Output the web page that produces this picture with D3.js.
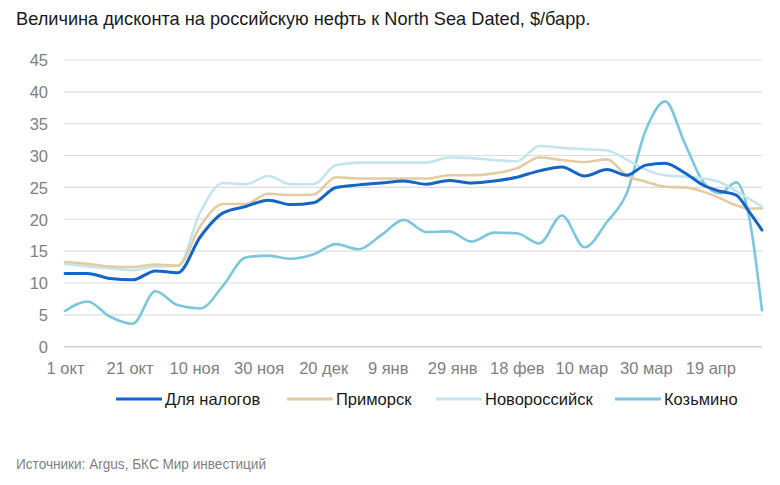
<!DOCTYPE html>
<html><head><meta charset="utf-8">
<script src="https://cdn.jsdelivr.net/npm/d3@7"></script>
<style>
body{margin:0;background:#fff;}
svg{display:block;}
</style></head>
<body>
<svg id="chart" width="780" height="485"></svg>
<script>
// Day offsets from 1 Oct
const days = [0,7,14,21,28,35,42,49,56,63,70,77,84,91,98,105,112,119,126,133,140,147,154,161,168,174,180,186,192,198,203,208,212,216];
const taxValues = [11.5,11.5,10.7,10.5,11.9,11.6,17.3,21.0,22.0,23.0,22.3,22.6,25.0,25.4,25.7,26.0,25.5,26.1,25.7,26.0,26.6,27.6,28.2,26.8,27.8,26.9,28.5,28.8,27.3,25.3,24.4,23.8,21.2,18.3];
const primorskValues = [13.3,13.0,12.6,12.5,12.9,12.7,19.0,22.4,22.4,24.0,23.8,23.9,26.6,26.4,26.4,26.4,26.4,26.9,26.9,27.2,28.0,29.7,29.3,29.0,29.4,26.9,25.9,25.1,25.0,24.3,23.3,22.2,21.7,21.7];
const novorosValues = [13.0,12.6,12.3,12.0,12.6,12.7,21.2,25.7,25.5,26.8,25.5,25.5,28.5,28.9,28.9,28.9,28.9,29.7,29.6,29.3,29.1,31.5,31.2,31.0,30.8,29.4,27.8,26.9,26.7,26.4,25.8,24.4,23.2,22.0];
const kozminoValues = [5.6,7.1,4.7,3.6,8.7,6.5,6.0,9.6,14.0,14.3,13.8,14.5,16.1,15.3,17.5,19.9,18.0,18.1,16.5,17.9,17.8,16.2,20.6,15.6,19.6,24.0,34.0,38.5,32.0,25.7,24.1,25.8,20.4,5.7];
const seriesNames = ["Для налогов","Приморск","Новороссийск","Козьмино"];
const tickDays = [0,20,40,60,80,100,120,140,160,180,200];
const tickLabels = ["1 окт","21 окт","10 ноя","30 ноя","20 дек","9 янв","29 янв","18 фев","10 мар","30 мар","19 апр"];
const yTicks = [0,5,10,15,20,25,30,35,40,45];
const title = "Величина дисконта на российскую нефть к North Sea Dated, $/барр.";
const source = "Источники: Argus, БКС Мир инвестиций";

const colors = ["#1565c8","#e3cba2","#c4e4ef","#7cc7dc"];
const widths = [3,2.6,2.6,2.6];
const valuesList = [taxValues, primorskValues, novorosValues, kozminoValues];

const svg = d3.select("#chart");
const x = d3.scaleLinear().domain([0,216]).range([65,762]);
const y = d3.scaleLinear().domain([0,45]).range([346.7,60]);

svg.append("text").attr("x",16).attr("y",25)
  .attr("font-family","Liberation Sans, Arial, sans-serif").attr("font-size",18.2)
  .attr("fill","#1a1a1a").text(title);

// grid
svg.append("g").selectAll("line").data(yTicks).join("line")
  .attr("x1",64).attr("x2",762)
  .attr("y1",d=>y(d)).attr("y2",d=>y(d))
  .attr("stroke",d=>d===0?"#d0d0d0":"#dcdcdc").attr("stroke-width",d=>d===0?1.6:1.1);

// y axis labels
const yAxis = d3.axisLeft(y).tickValues(yTicks).tickSize(0).tickPadding(0);
const gy = svg.append("g").attr("transform","translate(48,0)").call(yAxis);
gy.select(".domain").remove();
gy.selectAll("text").attr("font-family","Liberation Sans, Arial, sans-serif").attr("font-size",16.5).attr("fill","#808080").attr("dy","0.35em");

// x axis labels
const xAxis = d3.axisBottom(x).tickValues(tickDays).tickFormat((d,i)=>tickLabels[i]).tickSize(0).tickPadding(0);
const gx = svg.append("g").attr("transform","translate(0,362)").call(xAxis);
gx.select(".domain").remove();
gx.selectAll("text").attr("font-family","Liberation Sans, Arial, sans-serif").attr("font-size",16.5).attr("fill","#808080").attr("dy","0.71em");

// lines
const line = d3.line().x((d,i)=>x(days[i])).y(d=>y(d)).curve(d3.curveMonotoneX);
const order = [3,2,1,0];
order.forEach(k=>{
  svg.append("path").datum(valuesList[k]).attr("d",line)
    .attr("fill","none").attr("stroke",colors[k]).attr("stroke-width",widths[k])
    .attr("stroke-linejoin","round").attr("stroke-linecap","round");
});

// legend
const legX = [116,287,436,615];
const lg = svg.append("g");
seriesNames.forEach((n,i)=>{
  lg.append("line").attr("x1",legX[i]).attr("x2",legX[i]+46).attr("y1",399).attr("y2",399)
    .attr("stroke",colors[i]).attr("stroke-width",3);
  lg.append("text").attr("x",legX[i]+49).attr("y",399).attr("dy","0.35em")
    .attr("font-family","Liberation Sans, Arial, sans-serif").attr("font-size",16.5)
    .attr("fill","#1a1a1a").text(n);
});

svg.append("text").attr("x",16).attr("y",469)
  .attr("font-family","Liberation Sans, Arial, sans-serif").attr("font-size",14)
  .attr("textLength",250).attr("lengthAdjust","spacingAndGlyphs")
  .attr("fill","#7f7f7f").text(source);
</script>
</body></html>
